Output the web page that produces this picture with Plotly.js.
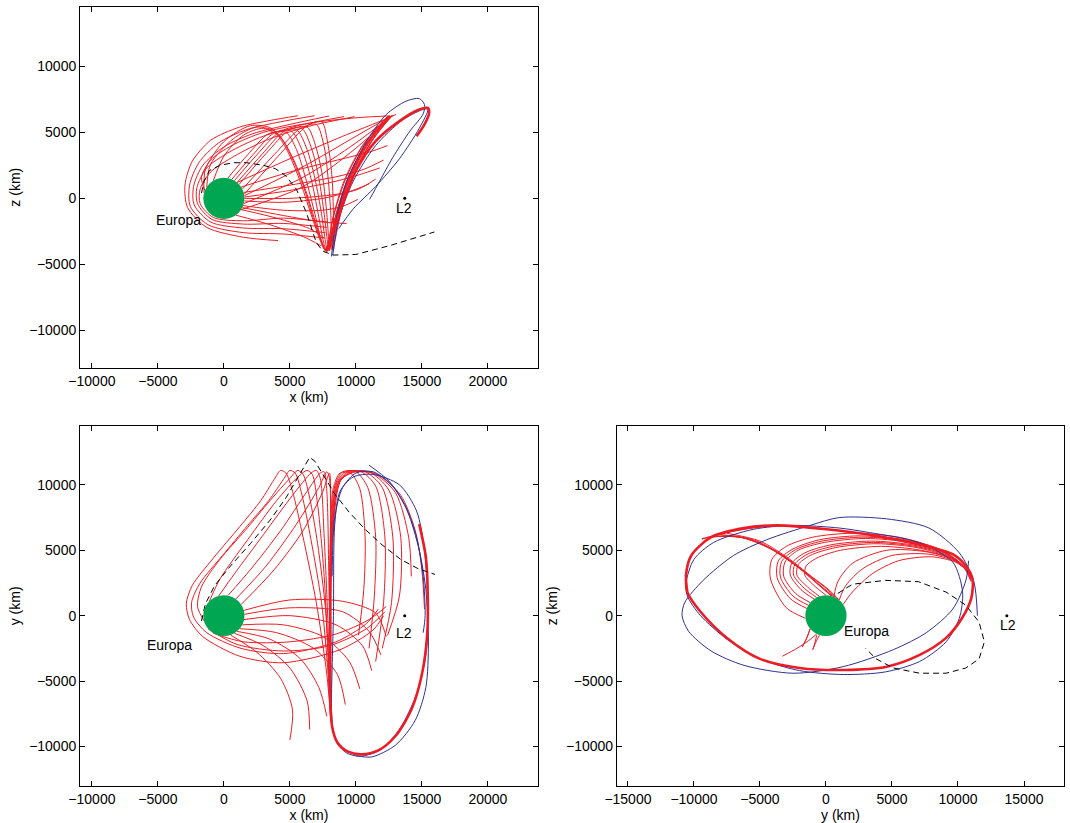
<!DOCTYPE html>
<html><head><meta charset="utf-8">
<script src="https://cdn.plot.ly/plotly-3.0.1.min.js"></script>
<style>html,body{margin:0;padding:0;background:#fff}#chart{width:1070px;height:823px}</style>
</head><body><div id="chart"></div>
<script>
// ---------- constants ----------
const europaRadius = 1560;
const l2X = 13700;
const l2Y = 0;

// ---------- top-left panel : x (km) vs z (km) ----------
const xzRedX = [
 [4100,1500,-1300,-2750,-2950,-2400,-1000,1200,3500,5600],
 [7600,4500,1500,-1200,-2550,-2600,-1900,-400,1700,4300,6870],
 [7700,4500,1500,-1000,-2250,-2300,-1600,0,2200,5000,7970],
 [7800,4500,1500,-900,-2000,-2050,-1300,400,2700,5600,9100],
 [7900,4500,1500,-800,-1800,-1800,-1000,800,3200,6200,9900],
 [-1450,-1700,-1000,600,3000,6500,10000,12600],
 [-800,0,1500,3000,4300,5300,6200,7000,7500,7750,8000,8500,9400,10800,12500],
 [300,1800,3400,4700,5500,6200,6900,7400,7700,8000,8500,9400,10800,12500],
 [600,2200,3800,5100,5900,6600,7150,7550,7780,8050,8550,9450,10850,12500],
 [800,2500,4200,5500,6300,6900,7400,7700,7850,8100,8600,9500,10900,12500],
 [1000,2900,4600,5900,6650,7200,7600,7850,7950,8150,8650,9550,10950,12550],
 [1150,3200,5000,6300,7000,7500,7800,7950,8000,8200,8700,9600,11000,12600],
 [1400,3800,5800,7000,7600,7900,8100,8150,8200,8300,8800,9700,11100,12600],
 [-1300,-1000,700,2500,4000,5000,6000,6800,7400,7700,7900,8300,9200,10600,12400],
 [-1500,-1400,0,2000,3600,4700,5700,6600,7300,7650,7850,8250,9100,10500,12400],
 [1530,4300,6300,7400,7900,8200,8300,8300,8300,8400,8900,9800,11200,12700],
 [1450,4500,7500,9000,10150],
 [1550,5000,8500,10200,11500],
 [1500,5000,8800,10600,12100],
 [1300,5000,9000,11000,12400],
 [1000,5000,9000,11500,13050],
 [1300,4000,6500,7600],
 [900,3500,6000,7400],
 [1550,4500,7500,9500,11000],
 [1400,4500,7500,9300],
 [1560,5000,8500,10300,11800],
 [7600,7900,8200,8700,9600,11000,12600],
 [7700,8000,8350,8900,9900,11300,12800],
 [1550,6000,10000,12700],
 [1500,6000,10000,12700],
 [1300,6000,10000,12700]
];
const xzRedZ = [
 [-3200,-2950,-2200,-700,1000,2800,4400,5400,5900,6260],
 [-3000,-2700,-2600,-2000,-600,1000,2700,4200,5200,5800,6260],
 [-2600,-2300,-2250,-1800,-500,900,2500,3900,4900,5600,6240],
 [-2200,-1900,-1950,-1600,-400,800,2300,3500,4600,5500,6190],
 [-1800,-1500,-1700,-1450,-400,700,2000,3200,4400,5400,6190],
 [600,1600,2900,4000,5000,5700,6100,6250],
 [1340,3200,4800,5300,4600,2900,600,-2000,-3500,-3950,-3300,-1200,1500,4200,6200],
 [1530,3300,4900,5000,3700,1500,-1200,-3300,-3950,-3300,-1200,1500,4200,6200],
 [1440,3300,4950,5100,3700,1500,-1200,-3300,-3950,-3300,-1200,1500,4200,6200],
 [1340,3300,5000,5200,3700,1500,-1200,-3300,-3950,-3300,-1200,1500,4200,6200],
 [1200,3350,5100,5300,3750,1500,-1200,-3300,-3950,-3300,-1150,1500,4200,6200],
 [1050,3400,5200,5400,3800,1500,-1200,-3300,-3950,-3300,-1100,1500,4200,6200],
 [700,3300,5300,5600,3900,1500,-1200,-3300,-3900,-3300,-1100,1500,4200,6200],
 [860,2600,4500,5400,5000,3400,1000,-1600,-3300,-3900,-3500,-1400,1400,4100,6200],
 [400,2200,4300,5500,5300,3800,1500,-1200,-3200,-3900,-3600,-1500,1300,4000,6200],
 [300,3400,5500,5800,4000,1500,-1200,-3300,-3850,-3300,-1000,1600,4300,6250],
 [-550,-900,-900,-600,-80],
 [0,0,300,700,1460],
 [450,1000,1700,2200,2900],
 [850,2000,3000,3500,4000],
 [1200,3000,4700,5700,6350],
 [-850,-1500,-2300,-3000],
 [-1270,-2000,-2900,-3600],
 [-200,-300,0,500,1100],
 [-700,-1300,-1800,-1900],
 [100,600,1300,1800,2300],
 [-4000,-3700,-2800,-800,1800,4400,6200],
 [-4100,-3800,-2700,-600,2000,4500,6300],
 [200,2400,4700,6250],
 [-400,1600,4200,6250],
 [-850,900,3800,6250]
];
const xzOrbitX = [7800,8300,9000,10000,11500,13300,14800,15450,15550,15200,14600];
const xzOrbitZ = [-4000,-2500,-450,2070,4330,5850,6730,6850,6480,5600,4700];
const xzBlueX = [
 [8150,8500,9300,10800,12300,13800,14800,15200,15100,14100,12800,11800,11040],
 [8250,8700,9800,11500,13500,15000,15450,14800,13300,11500,9800,8700]
];
const xzBlueZ = [
 [-4400,-1700,1300,4300,6350,7360,7560,7100,6400,5100,3100,1300,-80],
 [-4300,-1600,1300,4000,5900,6700,6750,5300,3000,900,-800,-2300]
];
const xzDashX = [-1700,-1500,-1100,-300,700,1700,3000,3900,4700,5500,6250,7000,7500,8270,10000,12500,15950];
const xzDashZ = [400,1300,2100,2500,2700,2700,2500,2250,1700,680,-1080,-3350,-4000,-4300,-4250,-3600,-2550];

// ---------- bottom-left panel : x (km) vs y (km) ----------
const xyRedX = [
 [12100,11300,8800,4500,1200,-1600,-2600,-2850,-2400,-800,1200,2800,3800,4300,4700,5200,6000,7000,7800,8100],
 [11700,10800,8500,4500,1300,-1300,-2300,-2450,-1800,-100,1800,3400,4500,5000,5400,5900,6600,7400,7900,8100],
 [-1500,-2000,-1700,-300,1600,3500,5000,5600,6000,6500,7100,7700,8000,8100],
 [-1100,-300,1800,4000,5600,6300,6700,7100,7600,7900,8100],
 [-400,800,3000,5200,6600,7000,7300,7600,7900,8100],
 [300,2000,4300,6300,7300,7600,7800,7950,8100],
 [900,3200,5500,7200,7800,8000,8050,8100],
 [1300,3800,6000,7500,8000,8100,8100],
 [8000,8100,8300,8800,9600,10300,10700,10600,10200],
 [8000,8150,8400,9000,10000,10900,11500,11400,11000],
 [8000,8200,8500,9200,10400,11500,12200,12100,11500],
 [8000,8200,8600,9400,10700,12000,12800,12700,12000],
 [8000,8250,8700,9600,11000,12500,13400,13300,12400],
 [8000,8250,8800,9800,11300,13000,14000,14200],
 [8000,8300,8900,10000,11600,13400,14500,15000,15200],
 [1500,5000,9000,11500,12300],
 [1550,5000,9000,11000,11900],
 [1500,5000,8500,10500,11200],
 [1400,4500,7500,9500,10300],
 [1200,4000,6800,8600,9200],
 [1000,3500,5800,7200,7800],
 [800,3000,5000,6300,6500],
 [500,2500,4300,5200,5000],
 [-1200,1000,4500,8000,10800,12200],
 [-800,1500,5000,8500,11000,12300]
];
const xyRedY = [
 [0,-1100,-2600,-3600,-3100,-1600,-300,900,2300,4400,6800,8800,10400,11100,10900,9500,6000,1000,-4500,-8000],
 [500,-600,-2000,-2900,-2500,-1300,-100,1000,2500,4600,6900,8800,10400,11100,10900,9300,5800,1000,-4500,-8000],
 [-400,700,2200,4300,6500,8800,10500,11100,10800,9000,5500,500,-4500,-8000],
 [1100,2800,5800,8800,10600,11100,10800,8500,3000,-3500,-8000],
 [1500,3200,6200,9200,10900,11100,10500,6000,-1000,-8000],
 [1530,3500,6500,9500,10900,11000,9500,3000,-8000],
 [1270,3800,7000,9800,11000,10500,3000,-8000],
 [850,3500,6500,9500,10900,9000,-8000],
 [2000,7000,9800,10900,10900,9700,6000,2000,-1500],
 [1000,7000,9900,11000,11000,9800,6000,1500,-2500],
 [0,7000,10000,11000,11000,9900,6000,1000,-3500],
 [-1000,7000,10100,11000,11000,9800,6000,1000,-2500],
 [-2000,7000,10200,11000,11000,9600,6000,1500,-1500],
 [-3000,7000,10300,11000,10900,9400,6000,3000],
 [-4000,7000,10400,11000,10800,9200,6500,3500,500],
 [400,1200,1100,200,-1600],
 [100,600,300,-1200,-3000],
 [-300,0,-700,-2300,-4200],
 [-700,-700,-1600,-3500,-5600],
 [-1000,-1300,-2500,-4500,-6800],
 [-1200,-1800,-3300,-5500,-7700],
 [-1350,-2300,-4000,-6500,-8700],
 [-1480,-2800,-4800,-7200,-9500],
 [-1000,-2200,-2700,-2300,-1000,300],
 [-1350,-2000,-2000,-1400,-300,700]
];
const xyOrbitX = [8000,8050,8200,8600,9400,10400,11700,13000,14200,15000,15400,15450,15300,14800];
const xyOrbitY = [-3000,-6000,-8500,-9700,-10400,-10600,-10300,-9200,-7200,-4500,-1500,1500,4500,7000];
const xyBlueX = [
 [8300,8200,8150,8250,8600,9300,10300,11800,13300,14600,15300,15450,15200,14600,13300,11300,9800,8800,8400,8300],
 [11000,12500,13700,14600,15100,15250,15100],
 [8200,8400,9000,10000,11300,12700,13900,14800,15300,15500,15300,14500,13000,11200,10000]
];
const xyBlueY = [
 [0,-4000,-7000,-8600,-9800,-10500,-10750,-10300,-8700,-6000,-3000,1000,5000,8000,10000,10800,10600,9500,7000,0],
 [11500,10300,8500,6000,3000,0,-1300],
 [3000,7500,9800,10900,11000,10000,8000,5000,2000,-2000,-5500,-8000,-9900,-10800,-10700]
];
const xyDashX = [-1700,-1400,-700,500,2000,3500,4700,5800,6500,6900,7500,8400,9500,10700,12000,13400,14700,16000];
const xyDashY = [-400,900,2300,3800,5500,7300,9000,10900,12100,11800,10800,9300,7900,6600,5400,4300,3600,3150];

// ---------- bottom-right panel : y (km) vs z (km) ----------
const yzRedY = [
 [-9400,-7000,-4500,-2200,-600,400],
 [-9000,-6500,-4200,-2000,-500,500],
 [-8500,-6000,-3800,-1700,-300,700],
 [-8000,-5500,-3400,-1400,0,900],
 [-7500,-5000,-3000,-1100,200,1000],
 [-1550,-3000,-4200,-4100,-3000,-1000,2000,5500,8500,10300,11000],
 [-1450,-2700,-3700,-3600,-2500,-500,2500,6000,8800,10400,11000],
 [-1300,-2500,-3450,-3350,-2300,-300,2800,6200,8900,10450,11000],
 [-1200,-2300,-3200,-3100,-2100,-100,3000,6300,9000,10500,11000],
 [-900,-1900,-2700,-2600,-1600,300,3400,6600,9200,10500,11000],
 [-700,-1650,-2450,-2350,-1400,500,3600,6750,9250,10550,11000],
 [-500,-1400,-2200,-2100,-1200,700,3800,6900,9300,10600,11000],
 [0,-900,-1600,-1500,-700,1100,4200,7200,9500,10600,11000],
 [600,900,2000,4600,7500,9600,10700,11000],
 [1000,1500,2800,5000,7800,9700,10700,11000],
 [1300,2000,3500,5500,8000,9800,10700,11000],
 [-9400,-8000,-6000,-4000],
 [-8500,-7000,-5000],
 [-700,-1300,-2200,-3300],
 [-1200,-1500,-1800,-1700,-1400,-1200],
 [-500,-800,-1000,-900,-700]
];
const yzRedZ = [
 [5900,6100,5300,3800,2400,1500],
 [6000,6000,5100,3600,2300,1480],
 [6100,5900,4900,3400,2200,1400],
 [6200,5800,4700,3200,2100,1270],
 [6300,5700,4500,3000,2000,1200],
 [-200,600,2800,4300,5300,6000,6300,6000,5100,3900,2600],
 [550,1300,2900,4200,5100,5800,6100,5800,5000,3800,2700],
 [780,1500,2950,4150,5050,5700,6000,5700,4900,3750,2750],
 [1000,1700,3000,4100,5000,5600,5900,5600,4800,3700,2800],
 [1270,2000,3100,4000,4800,5400,5700,5400,4700,3700,2900],
 [1390,2100,3100,3950,4700,5300,5600,5300,4600,3650,2950],
 [1480,2200,3100,3900,4600,5200,5500,5200,4500,3600,3000],
 [1560,2300,3100,3800,4400,5000,5300,5000,4400,3500,3100],
 [1440,2600,4000,5000,4900,4300,3500,3200],
 [1200,2300,3600,4600,4700,4200,3500,3300],
 [860,1800,3200,4200,4500,4100,3500,3300],
 [5850,6250,6650,6850],
 [6100,6450,6800],
 [-1400,-1900,-2500,-3100],
 [-1000,-1800,-2400,-2200,-1600,-1000],
 [-1500,-2100,-2600,-2300,-1500]
];
const yzOrbitY = [-10600,-10500,-9500,-7500,-5000,-2000,1300,4600,7100,9100,10300,11000,11100,10600,9600,7600,3800,50,-3700,-6200,-8700,-10200,-10600,-10500];
const yzOrbitZ = [3100,1800,300,-1700,-3300,-4000,-4150,-3900,-3000,-1700,-200,1300,2800,3800,4700,5300,6100,6600,6900,6700,6000,4600,3100,1800];
const yzBlueY = [
 [11470,11200,10100,7800,4600,1000,-1200,-4500,-7000,-9300,-10700,-10900,-10400,-8700,-6200,-2500,1300,5100,7600,9600,10600,10800],
 [-10600,-10000,-8500,-5500,-2500,1000,3300,7000,9600,10350,10100,9100,7100,4500,1300,-2000,-5000,-7500,-9500,-10500,-10600]
];
const yzBlueZ = [
 [0,2600,4800,6700,7400,7500,6900,5800,4600,2700,1000,0,-1200,-2700,-3800,-4400,-3900,-2600,-1300,500,2700,4200],
 [2500,4300,5600,6600,6900,6700,6350,5600,4100,1800,-200,-2000,-3500,-4300,-4500,-4200,-3300,-1800,0,1500,2500]
];
const yzDashY = [900,2000,4500,7000,9100,10600,11600,12000,11600,10600,9100,7100,5100,3800,3000];
const yzDashZ = [1700,2400,2700,2600,1800,800,-500,-2000,-3300,-4000,-4400,-4400,-4000,-3300,-2500];

// ---------- styles ----------
const RED = 'rgb(237,28,36)';
const BLUE = 'rgb(46,49,146)';
const GREEN = 'rgb(0,166,81)';
const FONT = 'Liberation Sans, Arial, Helvetica, sans-serif';

const traces = [];
function addLines(xs, ys, xa, ya, color, width, dash, shape) {
  for (let i = 0; i < xs.length; i++) {
    traces.push({x: xs[i], y: ys[i], xaxis: xa, yaxis: ya, type: 'scatter', mode: 'lines',
      line: {color: color, width: width, dash: dash || 'solid', shape: shape || 'spline', smoothing: 0.8},
      hoverinfo: 'skip', showlegend: false});
  }
}
const panels = [
  {xa:'x', ya:'y', rx:xzRedX, ry:xzRedZ, ox:xzOrbitX, oy:xzOrbitZ, bx:xzBlueX, by:xzBlueZ, dx:xzDashX, dy:xzDashZ},
  {xa:'x2', ya:'y2', rx:xyRedX, ry:xyRedY, ox:xyOrbitX, oy:xyOrbitY, bx:xyBlueX, by:xyBlueY, dx:xyDashX, dy:xyDashY},
  {xa:'x3', ya:'y3', rx:yzRedY, ry:yzRedZ, ox:yzOrbitY, oy:yzOrbitZ, bx:yzBlueY, by:yzBlueZ, dx:yzDashY, dy:yzDashZ}
];
panels.forEach(p => {
  addLines(p.rx, p.ry, p.xa, p.ya, RED, 1, 'solid', 'spline');
  addLines(p.bx, p.by, p.xa, p.ya, BLUE, 1, 'solid', 'spline');
  addLines([p.ox], [p.oy], p.xa, p.ya, RED, 2.6, 'solid', 'spline');
  addLines([p.dx], [p.dy], p.xa, p.ya, 'black', 1, '6px,4px', 'linear');
  traces.push({x:[l2X], y:[l2Y], xaxis:p.xa, yaxis:p.ya, type:'scatter', mode:'markers',
    marker:{color:'black', size:3}, hoverinfo:'skip', showlegend:false});
});

function axis(domain, range, title, isX, anchor) {
  return {domain: domain, range: range, anchor: anchor, showgrid:false, zeroline:false, showline:true,
    linecolor:'black', linewidth:1, mirror:'ticks', ticks:'inside', ticklen:5, tickcolor:'black',
    tick0:0, dtick:5000, tickformat:'d', tickfont:{family:FONT, size:14, color:'black'},
    title:{text:title, font:{family:FONT, size:14, color:'black'}, standoff: isX ? 0 : 5},
    fixedrange:true};
}
const leftDom = [0.0748, 0.5028];
const rightDom = [0.5766, 0.9944];
const topDom = [0.5532, 0.9919];
const botDom = [0.0453, 0.4824];
const xRangeLeft = [-10900, 23800];
const xRangeRight = [-15830, 18030];
const yRangeTop = [-12830, 14520];
const yRangeBot = [-13000, 14500];

const layout = {
  width:1070, height:823, margin:{l:0, r:0, t:0, b:0},
  paper_bgcolor:'white', plot_bgcolor:'white', showlegend:false,
  xaxis: axis(leftDom, xRangeLeft, 'x (km)', true, 'y'),
  yaxis: axis(topDom, yRangeTop, 'z (km)', false, 'x'),
  xaxis2: axis(leftDom, xRangeLeft, 'x (km)', true, 'y2'),
  yaxis2: axis(botDom, yRangeBot, 'y (km)', false, 'x2'),
  xaxis3: axis(rightDom, xRangeRight, 'y (km)', true, 'y3'),
  yaxis3: axis(botDom, yRangeBot, 'z (km)', false, 'x3'),
  shapes: [['x','y'],['x2','y2'],['x3','y3']].map(a => ({type:'circle', xref:a[0], yref:a[1],
    x0:-europaRadius, x1:europaRadius, y0:-europaRadius, y1:europaRadius,
    fillcolor:GREEN, line:{width:0}, layer:'above'})),
  annotations: [
    {text:'Europa', x:-3450, y:-1650, xref:'x', yref:'y'},
    {text:'L2', x:13640, y:-740, xref:'x', yref:'y'},
    {text:'Europa', x:-4130, y:-2250, xref:'x2', yref:'y2'},
    {text:'L2', x:13640, y:-1330, xref:'x2', yref:'y2'},
    {text:'Europa', x:3100, y:-1200, xref:'x3', yref:'y3'},
    {text:'L2', x:13790, y:-740, xref:'x3', yref:'y3'}
  ].map(a => Object.assign(a, {showarrow:false, font:{family:FONT, size:14, color:'black'}}))
};
Plotly.newPlot('chart', traces, layout, {displayModeBar:false, staticPlot:true});
</script>
</body></html>
